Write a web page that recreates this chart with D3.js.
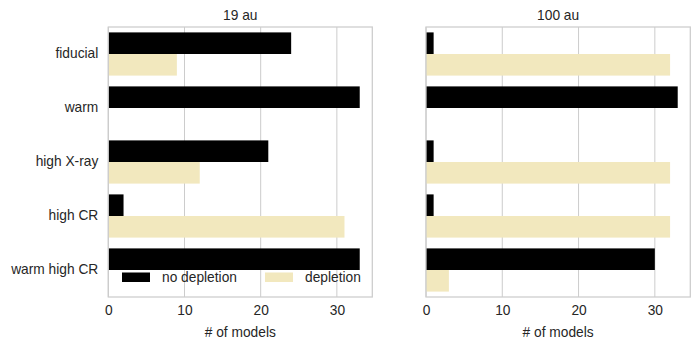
<!DOCTYPE html>
<html>
<head>
<meta charset="utf-8">
<script src="https://cdn.jsdelivr.net/npm/d3@7"></script>
<style>
  body { margin: 0; background: #fff; }
  text { font-family: "Liberation Sans", Arial, sans-serif; fill: #262626; }
</style>
</head>
<body>
<svg id="chart" width="699" height="349"></svg>
<script>
const categories = ['fiducial', 'warm', 'high X-ray', 'high CR', 'warm high CR']
const series = ['no depletion', 'depletion']
const panels = ['19 au', '100 au']
const noDepletion19 = [24, 33, 21, 2, 33]
const depletion19 = [9, 0, 12, 31, 0]
const noDepletion100 = [1, 33, 1, 1, 30]
const depletion100 = [32, 0, 32, 32, 3]
const xTicks = [0, 10, 20, 30]

const colors = { 'no depletion': '#000000', 'depletion': '#f2e8be' }
const gridColor = '#cccccc'
const fontSize = 13.75

const svg = d3.select('#chart')
const plotTop = 27
const plotBottom = 297
const panelX = [[108.3, 372.3], [426, 690.3]]
const values = [[noDepletion19, depletion19], [noDepletion100, depletion100]]

const y = d3.scaleBand()
  .domain(categories)
  .range([plotTop, plotBottom])
  .paddingInner(0.2)
  .paddingOuter(0.1)

const sub = d3.scaleBand()
  .domain(series)
  .range([0, y.bandwidth()])

panels.forEach((title, p) => {
  const x = d3.scaleLinear()
    .domain([0, 34.65])
    .range(panelX[p])

  const g = svg.append('g')

  // grid
  g.selectAll('line.grid')
    .data(xTicks)
    .enter().append('line')
    .attr('x1', d => x(d))
    .attr('x2', d => x(d))
    .attr('y1', plotTop)
    .attr('y2', plotBottom)
    .attr('stroke', gridColor)
    .attr('stroke-width', 1)

  // bars
  series.forEach((s, si) => {
    g.selectAll(null)
      .data(categories)
      .enter().append('rect')
      .attr('x', x(0))
      .attr('y', d => y(d) + sub(s))
      .attr('width', (d, i) => x(values[p][si][i]) - x(0))
      .attr('height', sub.bandwidth())
      .attr('fill', colors[s])
  })

  // frame
  g.append('rect')
    .attr('x', panelX[p][0])
    .attr('y', plotTop)
    .attr('width', panelX[p][1] - panelX[p][0])
    .attr('height', plotBottom - plotTop)
    .attr('fill', 'none')
    .attr('stroke', gridColor)
    .attr('stroke-width', 1.25)

  // x axis
  const xAxis = d3.axisBottom(x).tickValues(xTicks).tickSize(0).tickPadding(8)
  const ax = g.append('g')
    .attr('transform', `translate(0,${plotBottom})`)
    .call(xAxis)
  ax.select('.domain').remove()
  ax.selectAll('text')
    .attr('font-size', fontSize)
    .attr('fill', '#262626')

  g.append('text')
    .attr('x', (panelX[p][0] + panelX[p][1]) / 2)
    .attr('y', 337)
    .attr('text-anchor', 'middle')
    .attr('font-size', fontSize)
    .text('# of models')

  g.append('text')
    .attr('x', (panelX[p][0] + panelX[p][1]) / 2)
    .attr('y', 19.5)
    .attr('text-anchor', 'middle')
    .attr('font-size', fontSize)
    .text(title)

  if (p === 0) {
    const yAxis = d3.axisLeft(y).tickSize(0).tickPadding(10)
    const ay = g.append('g')
      .attr('transform', `translate(${panelX[p][0]},0)`)
      .call(yAxis)
    ay.select('.domain').remove()
    ay.selectAll('text')
      .attr('font-size', fontSize)
      .attr('fill', '#262626')
  }
})

// legend
const legend = svg.append('g')
const legendX = [122, 265]
series.forEach((s, i) => {
  legend.append('rect')
    .attr('x', legendX[i])
    .attr('y', 272.5)
    .attr('width', 28)
    .attr('height', 9.5)
    .attr('fill', colors[s])
  legend.append('text')
    .attr('x', legendX[i] + 40)
    .attr('y', 282)
    .attr('font-size', fontSize)
    .text(s)
})
</script>
</body>
</html>
